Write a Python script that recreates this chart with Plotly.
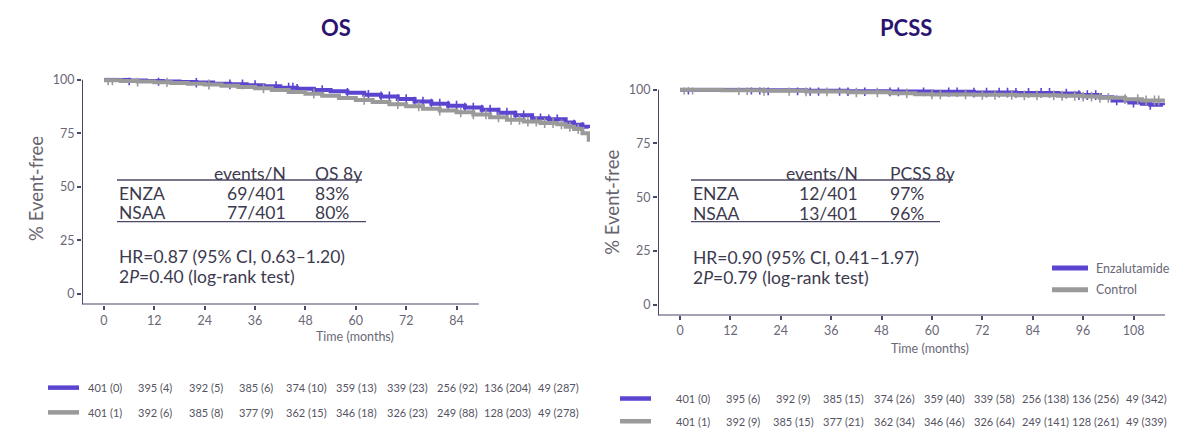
import numpy as np
import plotly.graph_objects as go

W, H = 1200, 444
PURPLE = "#5a45d0"
GRAY = "#9a9a9a"
AXIS = "#4b4766"
TXT = "#3c3a4e"
FONT = "Lato"

# ---------------- data ----------------
os_enza_t = [0, 6, 10, 14, 18, 22, 26, 30, 34, 38, 42, 46, 50, 54, 58, 62, 66, 70, 74, 78, 82, 86, 90, 94, 98, 102, 106, 110, 112, 114, 115.5]
os_enza_s = [100, 99.7, 99.5, 99.2, 99.0, 98.7, 98.2, 97.9, 97.5, 97.0, 96.3, 95.8, 95.2, 94.6, 93.9, 93.0, 92.2, 91.0, 89.8, 88.8, 87.9, 87.0, 86.0, 84.6, 83.4, 82.0, 81.5, 80.0, 79.0, 78.0, 77.5]
os_ctrl_t = [0, 4, 8, 12, 16, 20, 24, 28, 32, 36, 40, 44, 48, 52, 56, 60, 64, 68, 72, 76, 80, 84, 88, 92, 96, 100, 104, 108, 110, 112, 114, 115.5]
os_ctrl_s = [99.8, 99.5, 99.2, 98.9, 98.5, 98.2, 97.8, 97.2, 96.6, 96.0, 95.2, 94.3, 93.5, 92.5, 91.5, 90.6, 89.6, 88.6, 87.6, 86.5, 85.6, 84.8, 83.8, 82.5, 81.3, 80.5, 79.8, 79.2, 78.0, 77.0, 75.0, 71.0]
os_enza_cens = [6, 13, 22, 30, 33, 36, 41, 44, 45, 46, 52, 58, 63, 66, 68, 70, 72, 74, 76, 78, 80, 82, 84, 86, 88, 90, 92, 94, 96, 98, 100, 102, 104, 106, 108, 110, 112, 114]
os_ctrl_cens = [1, 2, 8, 15, 25, 38, 50, 62, 70, 75, 80, 85, 88, 91, 94, 97, 99, 101, 103, 105, 107, 109, 111, 113]

pc_enza_t = [0, 20, 30, 40, 50, 60, 70, 80, 90, 95, 100, 103, 107, 110, 112, 115]
pc_enza_s = [100, 99.7, 99.5, 99.3, 99.2, 99.0, 98.7, 98.5, 98.2, 97.5, 96.5, 95.0, 94.0, 93.5, 93.0, 92.8]
pc_ctrl_t = [0, 10, 20, 30, 40, 50, 56, 60, 70, 80, 90, 96, 100, 106, 110, 115]
pc_ctrl_s = [100, 99.8, 99.5, 99.2, 98.8, 98.3, 97.9, 97.8, 97.6, 97.4, 97.2, 96.8, 96.2, 95.6, 95.0, 94.0]
pc_enza_cens = [2, 17, 19, 21, 28, 31, 33, 38, 40, 44, 50, 52, 58, 64, 66, 70, 73, 76, 78, 80, 83, 86, 88, 92, 95, 97, 99, 104, 108, 112]
pc_ctrl_cens = [1, 3, 14, 16, 20, 26, 30, 35, 42, 47, 54, 60, 62, 68, 72, 75, 79, 82, 85, 89, 91, 94, 96, 98, 100, 102, 106, 109, 111, 113, 114]

risk_months = [0, 12, 24, 36, 48, 60, 72, 84, 96, 108]
os_risk_enza = ["401 (0)", "395 (4)", "392 (5)", "385 (6)", "374 (10)", "359 (13)", "339 (23)", "256 (92)", "136 (204)", "49 (287)"]
os_risk_ctrl = ["401 (1)", "392 (6)", "385 (8)", "377 (9)", "362 (15)", "346 (18)", "326 (23)", "249 (88)", "128 (203)", "49 (278)"]
pc_risk_enza = ["401 (0)", "395 (6)", "392 (9)", "385 (15)", "374 (26)", "359 (40)", "339 (58)", "256 (138)", "136 (256)", "49 (342)"]
pc_risk_ctrl = ["401 (1)", "392 (9)", "385 (15)", "377 (21)", "362 (34)", "346 (46)", "326 (64)", "249 (141)", "128 (261)", "49 (339)"]

x_ticks = [0, 12, 24, 36, 48, 60, 72, 84, 96, 108]
y_ticks = [0, 25, 50, 75, 100]


def px(x):
    return x / W


def py(y):
    return 1 - y / H


def step_at(times, surv, t):
    i = np.searchsorted(np.array(times), t, side="right") - 1
    return np.array(surv)[i]


fig = go.Figure()

panels = [
    ("x", "y", os_enza_t, os_enza_s, os_enza_cens, os_ctrl_t, os_ctrl_s, os_ctrl_cens),
    ("x2", "y2", pc_enza_t, pc_enza_s, pc_enza_cens, pc_ctrl_t, pc_ctrl_s, pc_ctrl_cens),
]
for xa, ya, et, es, ec, ct, cs, cc in panels:
    for t, s, c, col in [(et, es, ec, PURPLE), (ct, cs, cc, GRAY)]:
        fig.add_trace(go.Scatter(x=t, y=s, xaxis=xa, yaxis=ya, mode="lines",
                                 line=dict(color=col, width=4, shape="hv"),
                                 showlegend=False, hoverinfo="skip"))
        fig.add_trace(go.Scatter(x=c, y=step_at(t, s, c), xaxis=xa, yaxis=ya, mode="markers",
                                 marker=dict(symbol="line-ns-open", size=7, color=col,
                                             line=dict(color=col, width=1.6)),
                                 showlegend=False, hoverinfo="skip"))

# axes geometry
L_X0, L_X1 = -5.24, 115.8
R_X0, R_X1 = -5.24, 115.5
L_Y0, R_Y0 = -5.1, -5.06
axis_common = dict(showgrid=False, zeroline=False, showline=False, ticks="outside",
                   ticklen=4, tickwidth=1.5, tickcolor=AXIS,
                   tickfont=dict(family=FONT, size=12.5, color="#6a6878"))
fig.update_layout(
    xaxis=dict(domain=[px(82), px(590)], range=[L_X0, L_X1], anchor="y",
               tickvals=x_ticks[:8], **axis_common),
    yaxis=dict(domain=[py(303), py(73.5)], range=[L_Y0, 101], anchor="x",
               tickvals=y_ticks, **axis_common),
    xaxis2=dict(domain=[px(658), px(1165)], range=[R_X0, R_X1], anchor="y2",
                tickvals=x_ticks, **axis_common),
    yaxis2=dict(domain=[py(314), py(83.5)], range=[R_Y0, 101], anchor="x2",
                tickvals=y_ticks, **axis_common),
)

shapes = []
# axis lines
shapes.append(dict(type="line", xref="x", yref="y", x0=L_X0, x1=89.3, y0=L_Y0, y1=L_Y0,
                   line=dict(color=AXIS, width=2)))
shapes.append(dict(type="line", xref="x", yref="y", x0=L_X0, x1=L_X0, y0=L_Y0, y1=100,
                   line=dict(color=AXIS, width=2)))
shapes.append(dict(type="line", xref="x2", yref="y2", x0=R_X0, x1=R_X1, y0=R_Y0, y1=R_Y0,
                   line=dict(color=AXIS, width=2)))
shapes.append(dict(type="line", xref="x2", yref="y2", x0=R_X0, x1=R_X0, y0=R_Y0, y1=100,
                   line=dict(color=AXIS, width=2)))


def hline(x0, x1, y, col=AXIS, w=1.3):
    shapes.append(dict(type="line", xref="paper", yref="paper", x0=px(x0), x1=px(x1),
                       y0=py(y), y1=py(y), line=dict(color=col, width=w)))


# table rules
hline(117, 362, 177)
hline(117, 366, 219)
hline(691, 953, 177)
hline(691, 940, 219)
# legend swatches
hline(1052, 1088, 266, PURPLE, 5)
hline(1052, 1088, 288, GRAY, 5)
# risk table swatches
hline(48, 79, 387, PURPLE, 4.5)
hline(48, 79, 412, GRAY, 4.5)
hline(620, 651, 398, PURPLE, 4.5)
hline(620, 651, 421, GRAY, 4.5)

ann = []


def text(x, y, s, size=17.5, anchor="left", color=TXT, bold=False, angle=0):
    ann.append(dict(xref="paper", yref="paper", x=px(x), y=py(y), text=s, showarrow=False,
                    xanchor=anchor, yanchor="middle", textangle=angle,
                    font=dict(family=FONT, size=size, color=color,
                              weight="bold" if bold else "normal")))


# titles
text(336, 23, "OS", size=22, anchor="center", color="#2b1470", bold=True)
text(906, 23, "PCSS", size=22, anchor="center", color="#2b1470", bold=True)
# y titles
text(36, 186, "% Event-free", size=18.5, anchor="center", color="#66646f", angle=-90)
text(612, 200, "% Event-free", size=18.5, anchor="center", color="#66646f", angle=-90)
# x titles
text(355, 335, "Time (months)", size=12.5, anchor="center", color="#6a6878")
text(930, 347, "Time (months)", size=12.5, anchor="center", color="#6a6878")

# left stats table
text(288, 170, "events/N", anchor="right")
text(313, 170, "OS 8y")
text(117, 191, "ENZA")
text(288, 191, "69/401", anchor="right")
text(313, 191, "83%")
text(117, 210, "NSAA")
text(288, 210, "77/401", anchor="right")
text(313, 210, "80%")
text(117, 254, "HR=0.87 (95% CI, 0.63–1.20)")
text(117, 275, "2<i>P</i>=0.40 (log-rank test)")

# right stats table
text(860, 170, "events/N", anchor="right")
text(888, 170, "PCSS 8y")
text(691, 191, "ENZA")
text(860, 191, "12/401", anchor="right")
text(888, 191, "97%")
text(691, 211, "NSAA")
text(860, 211, "13/401", anchor="right")
text(888, 211, "96%")
text(691, 255, "HR=0.90 (95% CI, 0.41–1.97)")
text(691, 276, "2<i>P</i>=0.79 (log-rank test)")

# legend text
text(1094, 266, "Enzalutamide", size=12.5, color="#6a6878")
text(1094, 288, "Control", size=12.5, color="#6a6878")

# risk tables
for xref, shift, rows in [("x", 0.2, [(os_risk_enza, 387), (os_risk_ctrl, 412)]),
                          ("x2", 3.0, [(pc_risk_enza, 398), (pc_risk_ctrl, 421)])]:
    for labels, yy in rows:
        for m, lab in zip(risk_months, labels):
            ann.append(dict(xref=xref, yref="paper", x=m + shift, y=py(yy), text=lab,
                            showarrow=False, xanchor="center", yanchor="middle",
                            font=dict(family=FONT, size=11, color="#555463")))

fig.update_layout(width=W, height=H, margin=dict(l=0, r=0, t=0, b=0),
                  paper_bgcolor="white", plot_bgcolor="white",
                  shapes=shapes, annotations=ann, showlegend=False)

fig.write_html("out.html")
